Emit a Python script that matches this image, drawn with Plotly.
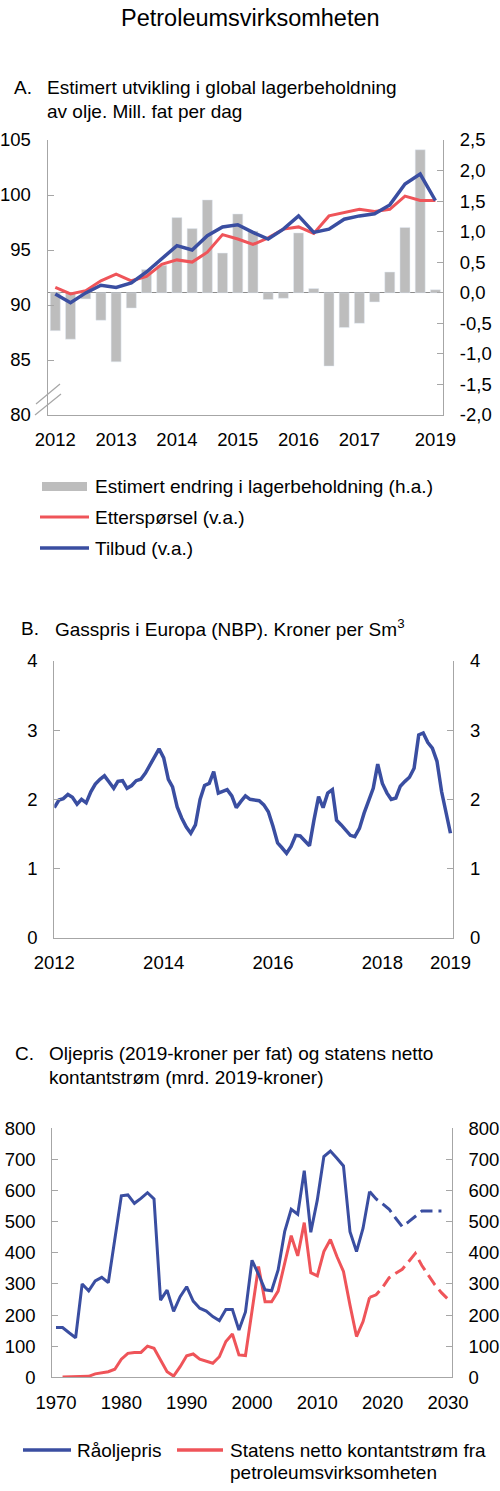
import plotly.graph_objects as go
import pandas as pd

W, H = 500, 1491
FONT = "Liberation Sans, Arial, sans-serif"
BLUE = "#3a4ea1"
RED = "#ef5459"
GREY_BAR = "#bdbdbd"
AXIS = "#a6a6a6"

# --- Panel A: quarterly data 2012K1-2018K2 ---
quarters = [f"{y}K{q}" for y in range(2012, 2019) for q in range(1, 5)][:26]
stock_change = [-0.62, -0.76, -0.10, -0.45, -1.13, -0.25, 0.38, 0.45, 1.23, 1.05,
                1.52, 0.65, 1.29, 1.01, -0.11, -0.09, 0.98, 0.07, -1.20, -0.57,
                -0.50, -0.15, 0.34, 1.07, 2.34, 0.05]
demand = [91.6, 91.0, 91.3, 92.2, 92.8, 92.2, 92.6, 93.7, 94.1, 93.9,
          94.8, 96.4, 96.0, 95.5, 96.1, 96.9, 97.1, 96.5, 98.1, 98.4,
          98.7, 98.5, 98.7, 99.9, 99.5, 99.5]
supply = [91.0, 90.2, 91.1, 91.8, 91.6, 92.0, 93.0, 94.2, 95.4, 95.0,
          96.3, 97.1, 97.3, 96.6, 96.0, 96.9, 98.1, 96.6, 96.9, 97.8,
          98.1, 98.3, 99.1, 101.0, 101.9, 99.5]
a_tickvals = ["2012K1", "2013K1", "2014K1", "2015K1", "2016K1", "2017K1", "2018K2"]
a_ticktext = ["2012", "2013", "2014", "2015", "2016", "2017", "2019"]
a_right_ticks = [-2.0, -1.5, -1.0, -0.5, 0.0, 0.5, 1.0, 1.5, 2.0, 2.5]
a_left_ticks = [80, 85, 90, 95, 100, 105]

# --- Panel B: monthly gas price 2012-01 .. 2019-04 ---
gas_months = pd.date_range("2012-01-01", periods=88, freq="MS")
gas_price = [1.88, 1.99, 2.01, 2.07, 2.03, 1.93, 2.00, 1.95, 2.11, 2.22,
             2.29, 2.34, 2.25, 2.16, 2.26, 2.27, 2.16, 2.20, 2.27, 2.29,
             2.38, 2.50, 2.62, 2.73, 2.60, 2.29, 2.18, 1.89, 1.73, 1.60,
             1.51, 1.63, 2.00, 2.20, 2.23, 2.40, 2.09, 2.11, 2.14, 2.05,
             1.88, 1.97, 2.05, 2.00, 1.99, 1.98, 1.92, 1.82, 1.61, 1.37,
             1.30, 1.22, 1.32, 1.48, 1.47, 1.40, 1.33, 1.70, 2.04, 1.88,
             2.09, 2.14, 1.70, 1.63, 1.56, 1.48, 1.46, 1.58, 1.80, 1.97,
             2.16, 2.51, 2.23, 2.09, 2.00, 2.02, 2.19, 2.26, 2.32, 2.45,
             2.93, 2.96, 2.82, 2.74, 2.55, 2.11, 1.82, 1.51]
b_tickvals = ["2012-01-01", "2014-01-01", "2016-01-01", "2018-01-01", "2019-04-01"]
b_ticktext = ["2012", "2014", "2016", "2018", "2019"]

# --- Panel C: yearly oil price 1970-2029 and net cash flow 1971-2030 ---
oil_years = list(range(1970, 2030))
oil_price = [160, 160, 143, 127, 300, 278, 310, 321, 304, 436,
             583, 586, 559, 575, 593, 573, 248, 280, 212, 259,
             291, 245, 222, 213, 195, 182, 218, 218, 152, 210,
             376, 331, 281, 278, 345, 468, 540, 524, 664, 466,
             570, 709, 727, 704, 679, 468, 404, 479, 597, 573,
             557, 540, 511, 484, 500, 518, 534, 534, 534, 534]
cash_years = list(range(1971, 2031))
cash_flow = [1, 1, 1, 2, 3, 11, 15, 18, 26, 58,
             77, 80, 80, 100, 93, 56, 18, 4, 34, 69,
             75, 58, 52, 45, 66, 115, 139, 72, 70, 215,
             356, 243, 243, 277, 366, 455, 390, 497, 336, 326,
             404, 443, 388, 340, 232, 131, 179, 257, 265, 289,
             320, 334, 347, 372, 398, 359, 326, 297, 272, 251]
last_hist = 2018


def px(x):
    return x / W


def py(y):
    return 1 - y / H


fig = go.Figure()

# Panel A
fig.add_trace(go.Bar(x=quarters, y=stock_change, marker_color=GREY_BAR,
                     xaxis="x", yaxis="y", hoverinfo="skip"))
fig.add_trace(go.Scatter(x=quarters, y=demand, mode="lines",
                         line=dict(color=RED, width=3), xaxis="x", yaxis="y2"))
fig.add_trace(go.Scatter(x=quarters, y=supply, mode="lines",
                         line=dict(color=BLUE, width=3.5), xaxis="x", yaxis="y2"))

# Panel B
fig.add_trace(go.Scatter(x=gas_months, y=gas_price, mode="lines",
                         line=dict(color=BLUE, width=3.5), xaxis="x2", yaxis="y3"))
fig.add_trace(go.Scatter(x=gas_months, y=gas_price, mode="lines",
                         line=dict(color="rgba(0,0,0,0)", width=0),
                         xaxis="x2", yaxis="y4", hoverinfo="skip"))

# Panel C
oil_hist = [(y, v) for y, v in zip(oil_years, oil_price) if y <= last_hist]
oil_proj = [(y, v) for y, v in zip(oil_years, oil_price) if y >= last_hist]
cash_hist = [(y, v) for y, v in zip(cash_years, cash_flow) if y <= last_hist]
cash_proj = [(y, v) for y, v in zip(cash_years, cash_flow) if y >= last_hist]

fig.add_trace(go.Scatter(x=[p[0] for p in cash_hist], y=[p[1] for p in cash_hist],
                         mode="lines", line=dict(color=RED, width=3),
                         xaxis="x3", yaxis="y5"))
fig.add_trace(go.Scatter(x=[p[0] for p in cash_proj], y=[p[1] for p in cash_proj],
                         mode="lines", line=dict(color=RED, width=3, dash="12px,6px"),
                         xaxis="x3", yaxis="y5"))
fig.add_trace(go.Scatter(x=[p[0] for p in oil_hist], y=[p[1] for p in oil_hist],
                         mode="lines", line=dict(color=BLUE, width=3),
                         xaxis="x3", yaxis="y5"))
fig.add_trace(go.Scatter(x=[p[0] for p in oil_proj], y=[p[1] for p in oil_proj],
                         mode="lines", line=dict(color=BLUE, width=3, dash="12px,6px"),
                         xaxis="x3", yaxis="y5"))
fig.add_trace(go.Scatter(x=oil_years, y=oil_price, mode="lines",
                         line=dict(color="rgba(0,0,0,0)", width=0),
                         xaxis="x3", yaxis="y6", hoverinfo="skip"))

tickfont = dict(family=FONT, size=18.5, color="#000")
yax = dict(showgrid=False, showline=True, linecolor=AXIS, linewidth=1.2,
           ticks="inside", ticklen=6, tickcolor=AXIS, tickwidth=1.2,
           tickfont=tickfont, ticklabelstandoff=12, zeroline=False,
           fixedrange=True, automargin=False)
xax = dict(showgrid=False, showline=True, linecolor=AXIS, linewidth=1.2,
           ticks="", tickfont=tickfont, ticklabelstandoff=8, zeroline=False,
           fixedrange=True, automargin=False)

fig.update_layout(
    width=W, height=H,
    margin=dict(l=0, r=0, t=0, b=0, autoexpand=False),
    paper_bgcolor="white", plot_bgcolor="white",
    showlegend=False, bargap=0.34,
    font=dict(family=FONT, size=18.5, color="#000"),
    xaxis=dict(xax, type="category", domain=[px(47.7), px(443)], anchor="y",
               tickvals=a_tickvals, ticktext=a_ticktext, range=[-0.5, 25.5]),
    yaxis=dict(yax, domain=[py(415), py(140)], side="right", anchor="x",
               range=[-2.0, 2.5], tickvals=a_right_ticks,
               ticktext=[f"{v:.1f}".replace(".", ",") for v in a_right_ticks],
               zeroline=True, zerolinecolor="#8c8c8c", zerolinewidth=1.2),
    yaxis2=dict(yax, overlaying="y", side="left", anchor="x",
                range=[80, 105], tickvals=a_left_ticks),
    xaxis2=dict(xax, type="date", domain=[px(54.3), px(453.3)], anchor="y3",
                range=["2012-01-01", "2019-04-20"],
                tickvals=b_tickvals, ticktext=b_ticktext),
    yaxis3=dict(yax, domain=[py(937.7), py(661)], side="left", anchor="x2",
                range=[0, 4], dtick=1),
    yaxis4=dict(yax, overlaying="y3", side="right", anchor="x2",
                range=[0, 4], dtick=1),
    xaxis3=dict(xax, domain=[px(52.3), px(451.7)], anchor="y5",
                range=[1969.43, 2030.57], tickvals=list(range(1970, 2031, 10))),
    yaxis5=dict(yax, domain=[py(1377.3), py(1128.3)], side="left", anchor="x3",
                range=[0, 800], dtick=100),
    yaxis6=dict(yax, overlaying="y5", side="right", anchor="x3",
                range=[0, 800], dtick=100),
)

def text(x, y, s, size=19, anchor="left"):
    fig.add_annotation(x=px(x), y=py(y), xref="paper", yref="paper", text=s,
                       showarrow=False, xanchor=anchor, yanchor="middle",
                       font=dict(family=FONT, size=size, color="#000"))

text(250, 18, "Petroleumsvirksomheten", size=23.5, anchor="center")
text(12, 88, "A.")
text(45, 88, "Estimert utvikling i global lagerbeholdning")
text(45, 112, "av olje. Mill. fat per dag")
text(19, 628, "B.")
text(53, 628, "Gasspris i Europa (NBP). Kroner per Sm<sup>3</sup>")
text(13, 1053, "C.")
text(47, 1053, "Oljepris (2019-kroner per fat) og statens netto")
text(47, 1077, "kontantstrøm (mrd. 2019-kroner)")

# Legend A
fig.add_shape(type="rect", xref="paper", yref="paper", x0=px(42), x1=px(87),
              y0=py(491), y1=py(482), fillcolor=GREY_BAR, line=dict(width=0))
fig.add_shape(type="line", xref="paper", yref="paper", x0=px(40), x1=px(89),
              y0=py(517), y1=py(517), line=dict(color=RED, width=3))
fig.add_shape(type="line", xref="paper", yref="paper", x0=px(40), x1=px(89),
              y0=py(548), y1=py(548), line=dict(color=BLUE, width=3.5))
text(93, 487, "Estimert endring i lagerbeholdning (h.a.)")
text(93, 517, "Etterspørsel (v.a.)")
text(93, 548, "Tilbud (v.a.)")

# Legend C
fig.add_shape(type="line", xref="paper", yref="paper", x0=px(23), x1=px(71),
              y0=py(1450), y1=py(1450), line=dict(color=BLUE, width=3.5))
fig.add_shape(type="line", xref="paper", yref="paper", x0=px(177), x1=px(223),
              y0=py(1450), y1=py(1450), line=dict(color=RED, width=3.5))
text(75, 1450, "Råoljepris")
text(228, 1450, "Statens netto kontantstrøm fra")
text(228, 1472, "petroleumsvirksomheten")

# Axis break marks on panel A's left axis
for (x0, y0, x1, y1) in [(36, 404, 60, 384), (35, 415, 61, 394)]:
    fig.add_shape(type="line", xref="paper", yref="paper", x0=px(x0), y0=py(y0),
                  x1=px(x1), y1=py(y1), line=dict(color=AXIS, width=1.2))

# the page's default body margin would shift the figure and add a scrollbar
fig.write_html("out.html", config={"displayModeBar": False},
               post_script="document.body.style.margin='0px';"
                           "document.body.style.overflow='hidden';")
